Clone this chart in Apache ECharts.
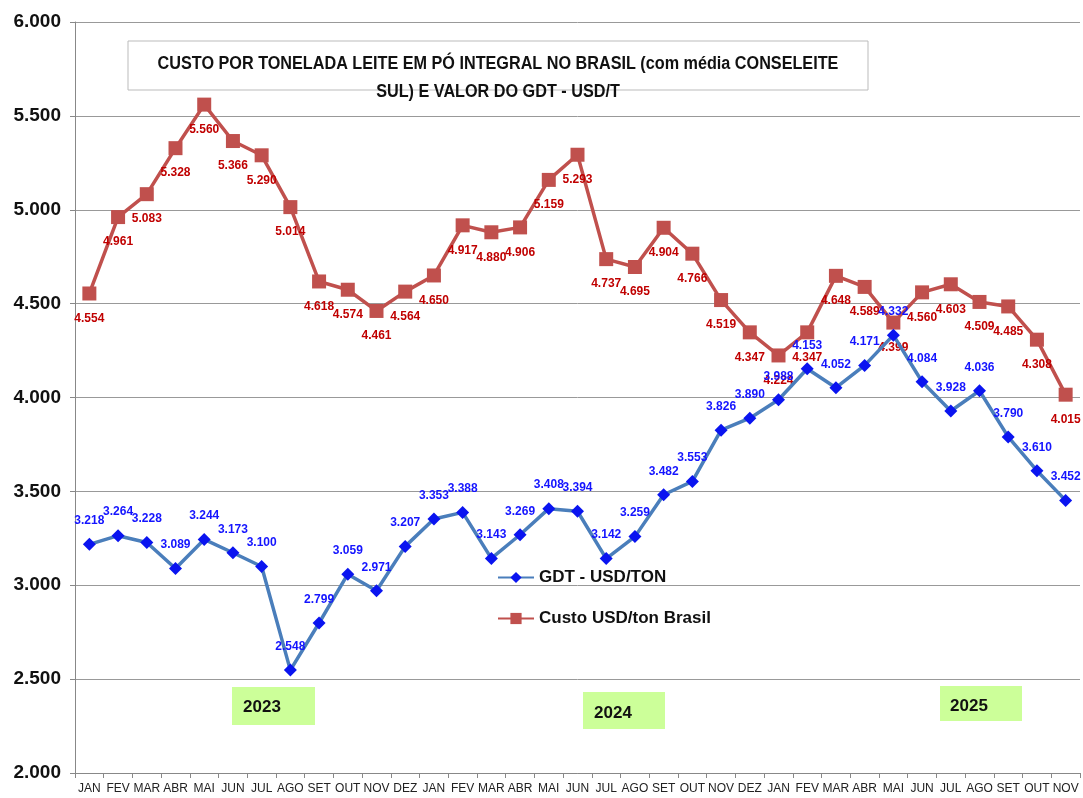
<!DOCTYPE html>
<html><head><meta charset="utf-8">
<script src="https://cdn.jsdelivr.net/npm/echarts@6/dist/echarts.min.js"></script>
<style>html,body{margin:0;padding:0;background:#fff}#c{width:1083px;height:798px}</style>
</head><body><div id="c"></div>
<script>
const months = ['JAN','FEV','MAR','ABR','MAI','JUN','JUL','AGO','SET','OUT','NOV','DEZ',
 'JAN','FEV','MAR','ABR','MAI','JUN','JUL','AGO','SET','OUT','NOV','DEZ',
 'JAN','FEV','MAR','ABR','MAI','JUN','JUL','AGO','SET','OUT','NOV'];
const gdt = [3218,3264,3228,3089,3244,3173,3100,2548,2799,3059,2971,3207,
 3353,3388,3143,3269,3408,3394,3142,3259,3482,3553,3826,3890,
 3988,4153,4052,4171,4332,4084,3928,4036,3790,3610,3452];
const custo = [4554,4961,5083,5328,5560,5366,5290,5014,4618,4574,4461,4564,
 4650,4917,4880,4906,5159,5293,4737,4695,4904,4766,4519,4347,
 4224,4347,4648,4589,4399,4560,4603,4509,4485,4308,4015];
const years = ['2023','2024','2025'];
const titleText = 'CUSTO POR TONELADA LEITE EM PÓ INTEGRAL NO BRASIL (com média CONSELEITE\nSUL) E VALOR DO GDT - USD/T';

const FONT = "'Liberation Sans','DejaVu Sans',sans-serif";
const fmt = v => (v/1000).toFixed(3);

const chart = echarts.init(document.getElementById('c'));
chart.setOption({
  animation:false,
  textStyle:{fontFamily:FONT},
  grid:{left:75,right:3,top:22,bottom:25,containLabel:false},
  xAxis:{type:'category',data:months,boundaryGap:true,
    axisLine:{lineStyle:{color:'#888'}},
    axisTick:{show:true,lineStyle:{color:'#888'}},
    axisLabel:{color:'#222',fontSize:12,interval:0,margin:10,fontFamily:FONT}},
  yAxis:{type:'value',min:2000,max:6000,interval:500,
    axisLine:{show:true,lineStyle:{color:'#888'}},
    axisTick:{show:true,lineStyle:{color:'#888'}},
    splitLine:{lineStyle:{color:'#999',width:1}},
    axisLabel:{color:'#111',fontSize:19,fontWeight:'bold',margin:14,fontFamily:FONT,
      formatter:v=>fmt(v)}},
  legend:{orient:'vertical',left:492,top:564,itemGap:24,itemWidth:36,itemHeight:14,
    textStyle:{fontSize:17,fontWeight:'bold',color:'#111',fontFamily:FONT},
    data:['GDT - USD/TON','Custo USD/ton Brasil']},
  series:[
    {name:'GDT - USD/TON',type:'line',data:gdt,symbol:'diamond',symbolSize:13,
     lineStyle:{color:'#4A7EBB',width:3.5},itemStyle:{color:'#0A14F0'},
     label:{show:true,position:'top',distance:11,color:'#1414FF',fontSize:12,fontWeight:'bold',fontFamily:FONT,
       formatter:p=>fmt(p.value)},z:3},
    {name:'Custo USD/ton Brasil',type:'line',data:custo,symbol:'rect',symbolSize:14,
     lineStyle:{color:'#C0504D',width:3.5},itemStyle:{color:'#C0504D'},
     label:{show:true,position:'bottom',distance:12,color:'#C00000',fontSize:12,fontWeight:'bold',fontFamily:FONT,
       formatter:p=>fmt(p.value)},z:2}
  ],
  graphic:[
    {type:'rect',shape:{x:128,y:41,width:740,height:49},style:{fill:'#fff',stroke:'#bbb',lineWidth:1},z:10},
    {type:'text',x:498,y:50,scaleX:0.9,z:11,style:{text:titleText,align:'center',verticalAlign:'top',
      font:"bold 18px "+FONT,fill:'#111',lineHeight:28}},
    {type:'rect',shape:{x:232,y:687,width:83,height:38},style:{fill:'#CCFF99'},z:10},
    {type:'text',x:262,y:707,z:11,style:{text:years[0],align:'center',verticalAlign:'middle',font:"bold 17px "+FONT,fill:'#111'}},
    {type:'rect',shape:{x:583,y:692,width:82,height:37},style:{fill:'#CCFF99'},z:10},
    {type:'text',x:613,y:713,z:11,style:{text:years[1],align:'center',verticalAlign:'middle',font:"bold 17px "+FONT,fill:'#111'}},
    {type:'rect',shape:{x:940,y:686,width:82,height:35},style:{fill:'#CCFF99'},z:10},
    {type:'text',x:969,y:706,z:11,style:{text:years[2],align:'center',verticalAlign:'middle',font:"bold 17px "+FONT,fill:'#111'}}
  ]
});
</script></body></html>
